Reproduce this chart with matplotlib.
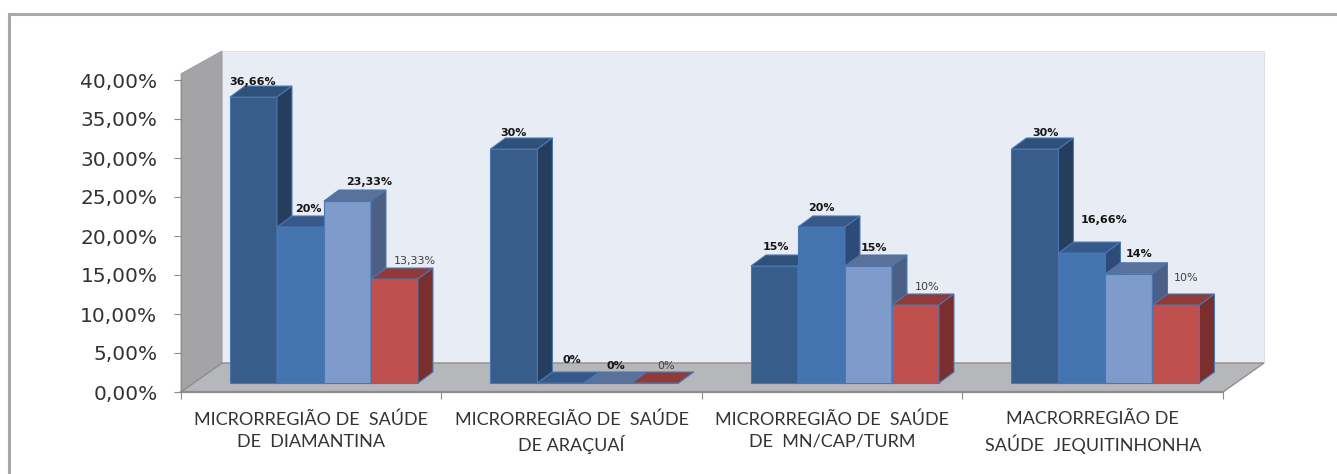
import matplotlib
matplotlib.use("Agg")
import matplotlib.pyplot as plt
from matplotlib.patches import Polygon
from matplotlib.lines import Line2D
from matplotlib import font_manager

# ---------------- data ----------------
categories = [
    "MICRORREGIÃO DE  SAÚDE\nDE  DIAMANTINA",
    "MICRORREGIÃO DE  SAÚDE\nDE ARAÇUAÍ",
    "MICRORREGIÃO DE  SAÚDE\nDE  MN/CAP/TURM",
    "MACRORREGIÃO DE\nSAÚDE  JEQUITINHONHA",
]
serie1 = [36.66, 30, 15, 30]
serie2 = [20, 0, 20, 16.66]
serie3 = [23.33, 0, 15, 14]
serie4 = [13.33, 0, 10, 10]
y_ticks = [0, 5, 10, 15, 20, 25, 30, 35, 40]

series = [serie1, serie2, serie3, serie4]

# ---------------- style ----------------
front_cols = ["#385D8A", "#4474B0", "#7E9BCB", "#C0504D"]
top_cols = ["#2F5079", "#36598A", "#5A719A", "#933A38"]
side_cols = ["#253E5E", "#2C4B76", "#4C5F84", "#7A2E2D"]
edge_col = "#4A77B3"
label_bold = [True, True, True, False]
label_cols = ["#151515", "#151515", "#151515", "#404040"]
# per-label nudges in pixels (x right, y up) [category][series]
nudge_x = [[-9, 0, 14, 12], [-8, 3, 0, 3], [-7, -8, -3, 4], [3, 14, 2, 2]]
nudge_y = [[-3, 0, 1, 0], [-2, 5, -1, -1], [1, 1, 0, 0], [-2, 15, 2, 9]]

names = {f.name for f in font_manager.fontManager.ttflist}
cat_font = "Liberation Sans Narrow" if "Liberation Sans Narrow" in names else "Lato"


def fmt_label(v):
    if abs(v - round(v)) < 1e-9:
        return f"{int(round(v))}%"
    return f"{v:.2f}".replace(".", ",") + "%"


W, H, DPI = 1337, 474, 100
PX_X0, PX_PER_CAT = 181.0, 260.5
PX_Y0, PX_PER_PCT = 392.0, 7.8
DX = 41 / PX_PER_CAT
DY = 29 / PX_PER_PCT
F0 = 0.31
BW = 47 / PX_PER_CAT
GROUP_OFF = (1 - 4 * BW) / 2
BDX = 15 / PX_PER_CAT
BDY = 11 / PX_PER_PCT

fig = plt.figure(figsize=(W / DPI, H / DPI), dpi=DPI)
fig.patch.set_facecolor("white")

xlim = (-0.08, 4 + DX + 0.03)
ylim = (-1.5, 40 + DY + 0.6)
left_px = PX_X0 + xlim[0] * PX_PER_CAT
right_px = PX_X0 + xlim[1] * PX_PER_CAT
bot_py = PX_Y0 - ylim[0] * PX_PER_PCT
top_py = PX_Y0 - ylim[1] * PX_PER_PCT
ax = fig.add_axes([left_px / W, 1 - bot_py / H, (right_px - left_px) / W, (bot_py - top_py) / H])
ax.set_xlim(xlim)
ax.set_ylim(ylim)
ax.patch.set_visible(False)

# walls and floor
ax.add_patch(Polygon([(DX, DY), (4 + DX, DY), (4 + DX, 40 + DY), (DX, 40 + DY)],
                     closed=True, fc="#E8ECF5", ec="#D8DDE8", lw=0.6, zorder=0))
ax.add_patch(Polygon([(0, 0), (DX, DY), (DX, 40 + DY), (0, 40.8)],
                     closed=True, fc="#A4A4A6", ec="#9A9A9C", lw=0.6, zorder=1))
ax.add_patch(Polygon([(0, 0), (4, 0), (4 + DX, DY), (DX, DY)],
                     closed=True, fc="#B5B7BA", ec="#8E8E8E", lw=1.0, zorder=1))

# bars
for s, vals in enumerate(series):
    xs = [c + GROUP_OFF + s * BW + F0 * DX for c in range(len(categories))]
    yb = F0 * DY
    z = 3 + s
    ax.bar(xs, vals, width=BW, bottom=yb, align="edge", color=front_cols[s],
           edgecolor=edge_col, linewidth=0.8, zorder=z)
    for c, (x, v) in enumerate(zip(xs, vals)):
        top = yb + v
        ax.add_patch(Polygon([(x, top), (x + BW, top), (x + BW + BDX, top + BDY), (x + BDX, top + BDY)],
                             closed=True, fc=top_cols[s], ec=edge_col, lw=0.8, zorder=z))
        ax.add_patch(Polygon([(x + BW, yb), (x + BW + BDX, yb + BDY), (x + BW + BDX, top + BDY), (x + BW, top)],
                             closed=True, fc=side_cols[s], ec=edge_col, lw=0.8, zorder=z))
        lx = x + BW / 2 + (8 + nudge_x[c][s]) / PX_PER_CAT
        ly = top + BDY + (4 + nudge_y[c][s]) / PX_PER_PCT
        ax.text(lx, ly, fmt_label(v), ha="center", va="baseline", fontsize=8,
                fontweight="bold" if label_bold[s] else "normal",
                color=label_cols[s], family="DejaVu Sans", zorder=20)

# axes
for sp in ["top", "right"]:
    ax.spines[sp].set_visible(False)
ax.spines["left"].set_position(("data", 0))
ax.spines["left"].set_bounds(0, 40)
ax.spines["left"].set_color("#8C8C8C")
ax.spines["bottom"].set_position(("data", 0))
ax.spines["bottom"].set_bounds(0, 4)
ax.spines["bottom"].set_color("#8C8C8C")
ax.spines["bottom"].set_linewidth(1.6)

ax.set_yticks(y_ticks)
ax.set_yticklabels([f"{v:.2f}".replace(".", ",") + "%" for v in y_ticks])
ax.tick_params(axis="y", length=5, direction="out", pad=12, labelsize=14.5,
               labelcolor="#333333", color="#8C8C8C")

ax.set_xticks([0, 1, 2, 3, 4])
ax.set_xticklabels([])
ax.set_xticks([c + 0.5 for c in range(len(categories))], minor=True)
ax.set_xticklabels(categories, minor=True, family=cat_font, fontsize=13,
                   color="#333333", linespacing=1.45)
ax.tick_params(axis="x", which="major", length=5, direction="out", color="#8C8C8C")
ax.tick_params(axis="x", which="minor", length=0, pad=14)

# chart border (top and left visible)
fig.add_artist(Line2D([9 / W, 9 / W], [0, 1 - 14 / H], transform=fig.transFigure,
                      color="#A8A8A8", lw=2.2))
fig.add_artist(Line2D([9 / W, 1], [1 - 14 / H, 1 - 14 / H], transform=fig.transFigure,
                      color="#A8A8A8", lw=2.2))

fig.savefig("out.png", dpi=DPI, facecolor="white")
